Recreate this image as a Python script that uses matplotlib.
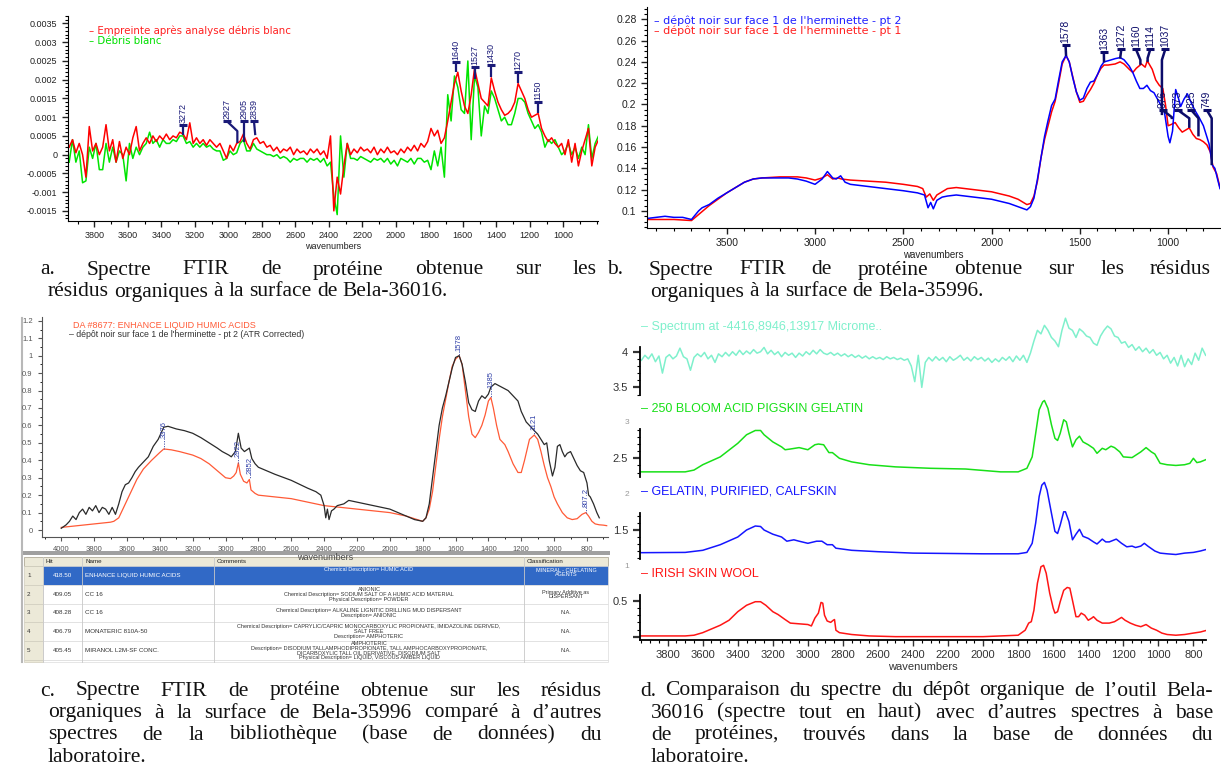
import numpy as np
import matplotlib
matplotlib.use("Agg")
import matplotlib.pyplot as plt
from matplotlib.ticker import MultipleLocator, FixedLocator, FuncFormatter
from matplotlib.patches import Rectangle

plt.rcParams["font.family"] = ["Liberation Sans", "DejaVu Sans"]

W, H = 1221, 780

# ---------------- panel a : Bela-36016 (absorbance x 1e-4) ----------------
a_wn = np.arange(3950, 789, -20)
a_red_e4 = [
    2, 4, 0.5, 3, 0, -6, 7.5, 1, 3, 0,
    2, 8, 1, 4, -2, 3.5, -1, 2, 0, 4.5,
    7.5, 1, 3, 4.5, 3, 5, 3.5, 5, 4, 5.5,
    4, 5, 4.5, 6, 5.5, 4, 8.5, 3, 4.5, 3,
    4, 2.5, 4, 3, 2, 3, 1, -1, 2.5, 1,
    3, 3.5, 5.5, 3, 1.5, 4, 4.5, 3, 3.5, 2,
    2.5, 1, 2, 0.5, 1.5, 1, 2, 0, 1.5, 0.5,
    1, 0, 1.5, 0.5, 1.5, 0, 1, -1, 5, -15,
    -6, -10.5, -3, 3, 0, 1.5, 0.5, 2, 1, 1.5,
    0.5, 2, 0, 1.5, 0.5, 2, 0.5, 1, 0, 1.5,
    0.5, 2, 1, 2.5, 1, 3, 2, 3.5, 7, 5,
    6.5, 3, 4.5, 9, 14, 19, 22, 17, 13, 11,
    16, 23, 19, 15, 14, 13, 20.5, 17, 14, 12,
    10.5, 11, 12, 14, 19, 17, 15, 12, 10, 10.5,
    11, 7, 5, 3.5, 4.5, 3, 2, 3, 0, 4,
    -2, 3, -3, 1, 4, 7, -3, 2, 4,
]
a_green_e4 = [
    -2, 4, -2, 1, -7.5, -7, 2, -1, 3, -4,
    -4, 3, -2, 2, -2, 1, 0, -7, 3, -1,
    2, 0, 2, 3, 6, 3, 4, 2, 4, 3,
    3, 4, 3.5, 5, 5, 3, 3.5, 2, 3, 2,
    3, 2, 2.5, 1.5, 1, 1, -1.5, -1, 1, 0,
    0.5, 3, 4, 1, 1, 3, 1.5, 1, 0.5, 0,
    0, -0.5, 0, -1, -0.5, -1, -2, -1, -1.5, -1,
    -1, -2, -1, -1.5, -1, -2, -1, -3, -2, -11,
    -16, 5, -6, 3, -1, -1, -1.5, -0.5, -1, -1.5,
    -2, -1, -1.5, -1, -2, -1, -2.5, -1.5, -3, -1,
    -1.5, -2, -1, -2.5, -1, -1, -2, -1.5, -4, 1,
    -3, 2, -6, 16, 9, 21, 18, 12, 11, 25,
    4, 21, 18, 5, 13, 11, 17, 15, 12, 9,
    10, 8, 8, 11, 15, 15, 14, 11, 9, 7,
    8, 6, 2, 4, 3, 4, 2, 0, 1, 3,
    0, 2, -1, 2, 0, 8, -1, 3, 5,
]
a_red = np.array(a_red_e4) * 1e-4
a_green = np.array(a_green_e4) * 1e-4

a_mark_labels = ["3272", "2927", "2905", "2839", "1640", "1527", "1430", "1270", "1150"]
a_mark_text_wn = [3272, 3010, 2905, 2847, 1640, 1527, 1430, 1270, 1150]
a_mark_cap = [7.9e-4, 9.0e-4, 9.0e-4, 9.0e-4, 24.8e-4, 23.5e-4, 24.0e-4, 22.1e-4, 14.0e-4]
a_mark_tip_wn = [3272, 2946, 2905, 2839, 1640, 1527, 1430, 1270, 1150]
a_mark_knee = [None, 6.3e-4, None, None, None, None, None, None, None]
a_mark_tip = [5.2e-4, 3.1e-4, 3.3e-4, 5.2e-4, 22.1e-4, 20.2e-4, 20.8e-4, 19.2e-4, 11.1e-4]

# ---------------- panel b : Bela-35996, two points ----------------
b_blue_wn = [3950, 3900, 3850, 3800, 3750, 3700, 3680, 3660, 3640, 3600,
             3550, 3500, 3450, 3400, 3350, 3300, 3250, 3200, 3150, 3100,
             3050, 3000, 2960, 2930, 2900, 2880, 2855, 2830, 2800, 2700,
             2600, 2500, 2420, 2380, 2360, 2345, 2330, 2310, 2280, 2250,
             2200, 2150, 2100, 2000, 1900, 1850, 1800, 1780, 1760, 1740,
             1720, 1700, 1680, 1660, 1640, 1620, 1600, 1578, 1560, 1540,
             1520, 1500, 1480, 1460, 1440, 1420, 1400, 1380, 1363, 1340,
             1300, 1272, 1250, 1220, 1200, 1180, 1160, 1140, 1120, 1100,
             1080, 1060, 1040, 1020, 1000, 990, 975, 957, 940, 929,
             910, 891, 870, 850, 825, 800, 768, 749, 735, 720,
             706]
b_blue = [0.093, 0.094, 0.095, 0.094, 0.094, 0.092, 0.096, 0.100, 0.103, 0.106,
          0.112, 0.117, 0.122, 0.127, 0.130, 0.131, 0.131, 0.131, 0.131, 0.130,
          0.128, 0.125, 0.130, 0.137, 0.131, 0.130, 0.133, 0.127, 0.125, 0.123,
          0.121, 0.119, 0.117, 0.115, 0.103, 0.108, 0.102, 0.110, 0.113, 0.114,
          0.115, 0.114, 0.113, 0.111, 0.107, 0.104, 0.101, 0.104, 0.112, 0.130,
          0.150, 0.170, 0.185, 0.199, 0.205, 0.223, 0.240, 0.246, 0.240, 0.225,
          0.212, 0.204, 0.206, 0.215, 0.221, 0.222, 0.228, 0.236, 0.240, 0.241,
          0.243, 0.244, 0.242, 0.236, 0.230, 0.222, 0.215, 0.215, 0.218, 0.213,
          0.211, 0.205, 0.199, 0.192, 0.170, 0.164, 0.175, 0.214, 0.205, 0.198,
          0.205, 0.210, 0.202, 0.195, 0.188, 0.180, 0.163, 0.143, 0.140, 0.130,
          0.121]
b_red_wn = [3950, 3900, 3800, 3700, 3650, 3600, 3550, 3500, 3450, 3400,
            3350, 3300, 3200, 3100, 3050, 3000, 2960, 2930, 2900, 2870,
            2850, 2800, 2700, 2600, 2500, 2420, 2390, 2370, 2350, 2330,
            2310, 2280, 2250, 2200, 2100, 2000, 1900, 1850, 1800, 1780,
            1760, 1740, 1720, 1700, 1680, 1660, 1640, 1620, 1600, 1578,
            1560, 1540, 1520, 1500, 1480, 1460, 1440, 1420, 1400, 1380,
            1363, 1340, 1300, 1272, 1250, 1220, 1200, 1180, 1151, 1130,
            1118, 1090, 1070, 1050, 1030, 1015, 1000, 985, 960, 940,
            920, 900, 880, 860, 840, 820, 800, 780, 760, 745,
            725, 706]
b_red = [0.092, 0.092, 0.092, 0.091, 0.098, 0.105, 0.111, 0.117, 0.122, 0.127,
         0.130, 0.131, 0.132, 0.132, 0.131, 0.129, 0.131, 0.134, 0.130, 0.131,
         0.130, 0.129, 0.128, 0.127, 0.125, 0.123, 0.121, 0.113, 0.116, 0.110,
         0.115, 0.118, 0.121, 0.122, 0.120, 0.118, 0.114, 0.111, 0.106, 0.107,
         0.114, 0.128, 0.150, 0.167, 0.180, 0.193, 0.203, 0.220, 0.238, 0.246,
         0.240, 0.226, 0.212, 0.202, 0.203, 0.209, 0.214, 0.220, 0.228, 0.234,
         0.237, 0.237, 0.238, 0.240, 0.238, 0.233, 0.230, 0.234, 0.238, 0.235,
         0.241, 0.233, 0.223, 0.218, 0.215, 0.200, 0.180, 0.181, 0.183, 0.178,
         0.174, 0.176, 0.178, 0.172, 0.168, 0.167, 0.165, 0.162, 0.155, 0.141,
         0.135, 0.122]

b_mark_labels = ["1578", "1363", "1272", "1160", "1114", "1037", "976", "873", "825", "749"]
b_mark_text_wn = [1581, 1364, 1265, 1182, 1101, 1016, 1031, 945, 869, 781]
b_mark_cap = [0.256, 0.249, 0.2518, 0.2518, 0.2518, 0.2518, 0.1948, 0.1948, 0.1948, 0.1948]
b_mark_tip_wn = [1578, 1363, 1272, 1157, 1116, 1035, 979, 880, 828, 753]
b_mark_knee = [None, None, None, 0.2418, 0.2435, 0.2418, 0.188, 0.187, 0.187, 0.187]
b_mark_tip = [0.2455, 0.2395, 0.2430, 0.2372, 0.2400, 0.190, 0.1862, 0.178, 0.170, 0.143]

# ---------------- panel c : library comparison ----------------
c_black_wn = [4000, 3970, 3950, 3930, 3910, 3890, 3870, 3850, 3830, 3810,
              3790, 3770, 3750, 3730, 3710, 3690, 3670, 3650, 3630, 3610,
              3590, 3570, 3550, 3530, 3500, 3470, 3440, 3410, 3376, 3350,
              3300, 3250, 3200, 3150, 3100, 3050, 3020, 3000, 2980, 2965,
              2940, 2922, 2905, 2885, 2855, 2840, 2820, 2800, 2700, 2600,
              2500, 2450, 2420, 2400, 2390, 2380, 2370, 2355, 2340, 2320,
              2280, 2250, 2200, 2150, 2100, 2000, 1950, 1900, 1850, 1800,
              1780, 1760, 1740, 1720, 1700, 1680, 1660, 1640, 1620, 1600,
              1578, 1560, 1540, 1520, 1500, 1480, 1460, 1440, 1420, 1400,
              1385, 1360, 1340, 1300, 1280, 1250, 1220, 1200, 1170, 1150,
              1121, 1100, 1080, 1060, 1045, 1030, 1010, 995, 980, 965,
              950, 935, 920, 900, 880, 860, 840, 820, 800, 790,
              780, 760, 740, 725]
c_black = [0.01, 0.03, 0.05, 0.08, 0.06, 0.10, 0.12, 0.09, 0.13, 0.11,
           0.14, 0.10, 0.13, 0.12, 0.09, 0.13, 0.09, 0.15, 0.22, 0.26,
           0.27, 0.30, 0.335, 0.36, 0.39, 0.42, 0.48, 0.52, 0.59, 0.595,
           0.58, 0.57, 0.555, 0.53, 0.50, 0.47, 0.45, 0.44, 0.43, 0.42,
           0.45, 0.555, 0.47, 0.45, 0.47, 0.41, 0.38, 0.36, 0.32, 0.285,
           0.24, 0.22, 0.20, 0.14, 0.07, 0.12, 0.06, 0.11, 0.12, 0.14,
           0.15, 0.17, 0.16, 0.15, 0.14, 0.12, 0.10, 0.08, 0.06, 0.05,
           0.07, 0.15, 0.30, 0.45, 0.60, 0.70, 0.77, 0.85, 0.93, 0.99,
           1.0, 0.95, 0.85, 0.73, 0.69, 0.68, 0.74, 0.77, 0.755, 0.78,
           0.82, 0.84, 0.83, 0.81, 0.80, 0.77, 0.74, 0.68, 0.62, 0.60,
           0.57, 0.55, 0.52, 0.49, 0.50, 0.40, 0.31, 0.36, 0.48, 0.49,
           0.45, 0.42, 0.44, 0.45, 0.41, 0.37, 0.34, 0.33, 0.27, 0.20,
           0.19, 0.15, 0.10, 0.07]
c_red_wn = [4000, 3950, 3900, 3850, 3800, 3750, 3700, 3680, 3650, 3620,
            3580, 3540, 3500, 3450, 3400, 3376, 3330, 3280, 3200, 3150,
            3100, 3050, 3000, 2970, 2950, 2935, 2922, 2910, 2890, 2870,
            2855, 2845, 2820, 2800, 2700, 2600, 2500, 2400, 2300, 2200,
            2100, 2000, 1900, 1850, 1800, 1780, 1760, 1740, 1720, 1700,
            1680, 1660, 1640, 1620, 1600, 1578, 1560, 1540, 1520, 1500,
            1480, 1460, 1440, 1420, 1400, 1385, 1370, 1350, 1330, 1300,
            1280, 1250, 1220, 1200, 1180, 1150, 1121, 1100, 1080, 1060,
            1040, 1020, 1000, 980, 950, 920, 890, 860, 830, 807,
            790, 770, 750, 725, 700, 680]
c_red = [0.015, 0.02, 0.025, 0.03, 0.035, 0.04, 0.045, 0.05, 0.07, 0.13,
         0.21, 0.29, 0.35, 0.40, 0.445, 0.465, 0.46, 0.45, 0.43, 0.41,
         0.38, 0.34, 0.30, 0.295, 0.31, 0.33, 0.385, 0.32, 0.28, 0.27,
         0.29, 0.23, 0.21, 0.20, 0.19, 0.18, 0.16, 0.14, 0.13, 0.12,
         0.11, 0.10, 0.08, 0.065, 0.05, 0.07, 0.12, 0.22, 0.37, 0.52,
         0.65, 0.75, 0.85, 0.94, 0.98, 1.0, 0.95, 0.80, 0.65, 0.55,
         0.53, 0.56, 0.60, 0.66, 0.74, 0.76, 0.70, 0.60, 0.52, 0.49,
         0.45, 0.38, 0.33, 0.33, 0.40, 0.52, 0.545, 0.52, 0.45, 0.37,
         0.30, 0.25, 0.19, 0.15, 0.10, 0.07, 0.06, 0.065, 0.09, 0.10,
         0.08, 0.05, 0.035, 0.03, 0.028, 0.025]

c_mark_labels = ["3376", "2922", "2852", "1578", "1385", "1121", "807.2"]
c_mark_wn = [3376, 2922, 2852, 1578, 1385, 1121, 807]
c_mark_text = [0.528, 0.42, 0.32, 1.029, 0.813, 0.574, 0.134]
c_mark_tip = [0.465, 0.385, 0.29, 1.0, 0.765, 0.545, 0.10]

table_header = ["", "Hit", "Name", "Comments", "Classification"]
table_rows = [
    ["1", "418.50", "ENHANCE LIQUID HUMIC ACIDS", "Chemical Description= HUMIC ACID",
     "MINERAL - CHELATING\nAGENTS"],
    ["2", "409.05", "CC 16",
     "ANIONIC\nChemical Description= SODIUM SALT OF A HUMIC ACID MATERIAL\nPhysical Description= POWDER",
     "Primary Additive as\nDISPERSANT"],
    ["3", "408.28", "CC 16",
     "Chemical Description= ALKALINE LIGNITIC DRILLING MUD DISPERSANT\nDescription= ANIONIC", "N.A."],
    ["4", "406.79", "MONATERIC 810A-50",
     "Chemical Description= CAPRYLIC/CAPRIC MONOCARBOXYLIC PROPIONATE, IMIDAZOLINE DERIVED,\nSALT FREE\nDescription= AMPHOTERIC",
     "N.A."],
    ["5", "405.45", "MIRANOL L2M-SF CONC.",
     "AMPHOTERIC\nDescription= DISODIUM TALLAMPHODIPROPIONATE, TALL AMPHOCARBOXYPROPIONATE,\nDICARBOXYLIC TALL OIL DERIVATIVE, DISODIUM SALT\nPhysical Description= LIQUID, VISCOUS AMBER LIQUID",
     "N.A."],
]

# ---------------- panel d : protein references ----------------
d_cyan_wn = np.arange(3950, 729, -20)
d_cyan = [
    3.88, 3.95, 3.90, 3.97, 3.86, 3.94, 3.70, 3.92, 3.96, 3.90,
    3.94, 4.05, 3.93, 3.90, 3.74, 3.92, 3.97, 3.93, 3.99, 3.90,
    3.95, 3.85, 3.97, 3.93, 3.99, 3.94, 4.00, 3.95, 4.02, 3.96,
    4.01, 3.97, 4.03, 3.98, 4.00, 4.06, 3.97, 4.02, 3.96, 4.00,
    3.93, 3.99, 3.95, 3.98, 3.92, 3.98, 3.94, 4.00, 3.96, 4.02,
    3.97, 4.03, 3.98, 3.96, 3.99, 3.95, 3.98, 3.94, 3.97, 3.93,
    3.96, 3.92, 3.95, 3.91, 3.94, 3.90, 3.93, 3.90, 3.92, 3.89,
    3.93, 3.90, 3.92, 3.89, 3.91, 3.88, 3.90, 3.80, 3.58, 3.95,
    3.50, 3.85, 3.92, 3.87, 3.93, 3.88, 3.92, 3.86, 3.93, 3.88,
    3.91, 3.95, 3.88, 3.92, 3.87, 3.93, 3.89, 3.92, 3.87, 3.91,
    3.85, 3.90, 3.86, 3.92, 3.88, 3.93, 3.86, 3.94, 3.88, 3.95,
    3.85, 3.98, 4.15, 4.30, 4.25, 4.37, 4.30, 4.20, 4.15, 4.07,
    4.30, 4.47, 4.33, 4.30, 4.20, 4.32, 4.28, 4.22, 4.20, 4.12,
    4.09, 4.22, 4.30, 4.36, 4.32, 4.22, 4.20, 4.12, 4.14, 4.06,
    4.10, 4.02, 4.07, 4.00, 4.05, 3.98, 4.03, 3.95, 3.99, 3.90,
    3.95, 3.84, 3.92, 3.80, 3.95, 3.79, 3.90, 3.82, 3.98, 3.88,
    4.05, 3.95,
]
d_green_wn = [3958, 3700, 3650, 3600, 3500, 3400, 3350, 3300, 3270, 3250,
              3200, 3150, 3130, 3100, 3050, 3000, 2960, 2940, 2910, 2880,
              2860, 2820, 2750, 2650, 2500, 2300, 2100, 1900, 1800, 1750,
              1720, 1700, 1680, 1660, 1650, 1630, 1610, 1590, 1575, 1560,
              1540, 1525, 1510, 1490, 1470, 1450, 1430, 1400, 1370, 1350,
              1320, 1300, 1270, 1250, 1220, 1200, 1150, 1100, 1070, 1040,
              1020, 990, 950, 900, 850, 820, 800, 780, 760, 730]
d_green = [2.31, 2.31, 2.335, 2.41, 2.52, 2.71, 2.83, 2.89, 2.89, 2.83,
           2.73, 2.66, 2.62, 2.63, 2.65, 2.62, 2.69, 2.70, 2.69, 2.58,
           2.58, 2.50, 2.45, 2.41, 2.38, 2.36, 2.35, 2.31, 2.31, 2.36,
           2.52, 2.85, 3.18, 3.29, 3.31, 3.20, 2.97, 2.78, 2.75, 2.85,
           3.04, 3.01, 2.85, 2.66, 2.76, 2.81, 2.73, 2.69, 2.64, 2.57,
           2.64, 2.62, 2.67, 2.65, 2.59, 2.52, 2.51, 2.59, 2.65, 2.59,
           2.56, 2.43, 2.41, 2.40, 2.41, 2.43, 2.50, 2.44, 2.45, 2.48]
d_blue_wn = [3958, 3700, 3600, 3500, 3400, 3350, 3300, 3270, 3250, 3200,
             3150, 3120, 3080, 3050, 3000, 2950, 2920, 2890, 2860, 2840,
             2750, 2600, 2400, 2000, 1800, 1750, 1720, 1700, 1680, 1665,
             1650, 1635, 1610, 1590, 1575, 1560, 1540, 1530, 1510, 1490,
             1470, 1450, 1430, 1400, 1370, 1350, 1320, 1300, 1280, 1240,
             1210, 1180, 1150, 1130, 1100, 1080, 1060, 1020, 990, 950,
             900, 850, 800, 760, 730]
d_blue = [1.176, 1.18, 1.21, 1.29, 1.40, 1.50, 1.557, 1.55, 1.50, 1.44,
          1.40, 1.34, 1.36, 1.34, 1.31, 1.34, 1.34, 1.29, 1.29, 1.24,
          1.21, 1.19, 1.17, 1.16, 1.16, 1.18, 1.31, 1.60, 1.98, 2.14,
          2.18, 2.07, 1.74, 1.48, 1.45, 1.57, 1.76, 1.76, 1.62, 1.36,
          1.44, 1.51, 1.41, 1.38, 1.33, 1.30, 1.37, 1.33, 1.33, 1.37,
          1.31, 1.26, 1.27, 1.25, 1.27, 1.31, 1.27, 1.20, 1.17, 1.16,
          1.15, 1.17, 1.18, 1.20, 1.22]
d_red_wn = [3958, 3700, 3650, 3600, 3500, 3450, 3400, 3350, 3300, 3270,
            3240, 3200, 3170, 3130, 3100, 3050, 3000, 2980, 2960, 2940,
            2925, 2915, 2905, 2890, 2870, 2855, 2848, 2840, 2820, 2750,
            2650, 2500, 2000, 1800, 1760, 1740, 1725, 1710, 1690, 1670,
            1655, 1640, 1620, 1600, 1590, 1575, 1560, 1540, 1520, 1505,
            1490, 1470, 1455, 1440, 1420, 1400, 1380, 1370, 1350, 1320,
            1280, 1250, 1210, 1190, 1160, 1130, 1100, 1070, 1040, 1010,
            980, 950, 900, 850, 800, 760, 730]
d_red = [0.01, 0.01, 0.02, 0.056, 0.16, 0.23, 0.35, 0.44, 0.49, 0.49,
         0.44, 0.35, 0.31, 0.24, 0.19, 0.18, 0.17, 0.15, 0.26, 0.33,
         0.48, 0.47, 0.30, 0.22, 0.20, 0.23, 0.24, 0.09, 0.056, 0.03,
         0.01, 0.0, 0.0, 0.02, 0.09, 0.19, 0.21, 0.37, 0.75, 0.98,
         1.0, 0.89, 0.61, 0.40, 0.33, 0.35, 0.49, 0.65, 0.69, 0.68,
         0.51, 0.28, 0.28, 0.33, 0.30, 0.23, 0.26, 0.28, 0.23, 0.19,
         0.19, 0.21, 0.27, 0.23, 0.19, 0.16, 0.14, 0.17, 0.12, 0.09,
         0.05, 0.03, 0.02, 0.03, 0.05, 0.065, 0.085]

d_names = ["Spectrum at -4416,8946,13917 Microme..", "250 BLOOM ACID PIGSKIN GELATIN",
           "GELATIN, PURIFIED, CALFSKIN", "IRISH SKIN WOOL"]

captions = {
    "a": ["a.  Spectre  FTIR  de  protéine  obtenue  sur  les",
          "résidus organiques à la surface de Bela-36016."],
    "b": ["b. Spectre FTIR de protéine obtenue sur les résidus",
          "organiques à la surface de Bela-35996."],
    "c": ["c.  Spectre FTIR de protéine obtenue sur les résidus",
          "organiques à la surface de Bela-35996 comparé à d’autres",
          "spectres de la bibliothèque (base de données) du",
          "laboratoire."],
    "d": ["d. Comparaison du spectre du dépôt organique de l’outil Bela-",
          "36016 (spectre tout en haut) avec d’autres spectres à base",
          "de protéines, trouvés dans la base de données du",
          "laboratoire."],
}


def box(left, top, right, bottom):
    return [left / W, 1 - bottom / H, (right - left) / W, (bottom - top) / H]


def gfmt(v, pos):
    if abs(v) < 1e-12:
        return "0"
    return f"{round(v, 6):g}"


fig = plt.figure(figsize=(W / 100, H / 100), dpi=100)
page = fig.add_axes([0, 0, 1, 1])
page.set_xlim(0, W)
page.set_ylim(H, 0)
page.axis("off")


def spec_axes(pos, xlim, ylim):
    ax = fig.add_axes(box(*pos))
    ax.set_facecolor("none")
    ax.set_xlim(*xlim)
    ax.set_ylim(*ylim)
    ax.spines["top"].set_visible(False)
    ax.spines["right"].set_visible(False)
    ax.yaxis.set_major_formatter(FuncFormatter(gfmt))
    return ax


def peak_marks(ax, labels, text_wn, cap, tip_wn, knee, tip, color, fs, lw=1.6):
    for lab, tw, cy, pw, ky, py in zip(labels, text_wn, cap, tip_wn, knee, tip):
        if ky is None:
            xs, ys = [tw, pw], [cy, py]
        else:
            xs, ys = [tw, pw, pw], [cy, ky, py]
        ax.plot(xs, ys, color=color, lw=lw, solid_capstyle="butt", zorder=5)
        ax.plot([tw], [cy], marker="_", ms=6, mew=2.2, color=color, zorder=5)
        ax.annotate(lab, (tw, cy), xytext=(0, 1.5), textcoords="offset points",
                    rotation=90, ha="center", va="bottom", fontsize=fs, color=color,
                    family=["Liberation Sans Narrow", "Liberation Sans", "DejaVu Sans"],
                    zorder=6)


# ---- panel a
ax_a = spec_axes((68, 16, 598, 221), (3957, 793), (-0.00177, 0.0037))
ax_a.plot(a_wn, a_green, color="#00e400", lw=1.1)
ax_a.plot(a_wn, a_red, color="#ff0000", lw=1.1)
ax_a.yaxis.set_major_locator(MultipleLocator(0.0005))
ax_a.yaxis.set_minor_locator(MultipleLocator(0.0001))
ax_a.xaxis.set_major_locator(FixedLocator(range(1000, 3801, 200)))
ax_a.xaxis.set_minor_locator(MultipleLocator(100))
ax_a.tick_params(labelsize=6.5, length=4, width=1, colors="#222")
ax_a.tick_params(which="minor", length=2, width=0.8)
ax_a.set_xlabel("wavenumbers", fontsize=6.5, labelpad=1, color="#222")
peak_marks(ax_a, a_mark_labels, a_mark_text_wn, a_mark_cap, a_mark_tip_wn,
           a_mark_knee, a_mark_tip, "#1a1a78", 6.5)
ax_a.text(0.04, 0.926, "– Empreinte après analyse débris blanc", transform=ax_a.transAxes,
          color="#ff2020", fontsize=7.4, family=["DejaVu Sans"], va="center")
ax_a.text(0.04, 0.876, "– Débris blanc", transform=ax_a.transAxes,
          color="#00e000", fontsize=7.4, family=["DejaVu Sans"], va="center")

# ---- panel b
ax_b = spec_axes((647, 7, 1220, 228), (3952, 706), (0.084, 0.2915))
ax_b.plot(b_red_wn, b_red, color="#ff0000", lw=1.1)
ax_b.plot(b_blue_wn, b_blue, color="#0000ff", lw=1.1)
ax_b.yaxis.set_major_locator(FixedLocator(np.round(np.arange(0.10, 0.281, 0.02), 2)))
ax_b.yaxis.set_minor_locator(MultipleLocator(0.005))
ax_b.xaxis.set_major_locator(MultipleLocator(500))
ax_b.xaxis.set_minor_locator(MultipleLocator(100))
ax_b.tick_params(labelsize=7.5, length=4, width=1, colors="#222")
ax_b.tick_params(which="minor", length=2, width=0.8)
ax_b.set_xlabel("wavenumbers", fontsize=7, labelpad=1, color="#222")
peak_marks(ax_b, b_mark_labels, b_mark_text_wn, b_mark_cap, b_mark_tip_wn,
           b_mark_knee, b_mark_tip, "#0c0c6a", 7.5, lw=1.8)
ax_b.text(0.012, 0.939, "– dépôt noir sur face 1 de l'herminette - pt 2", transform=ax_b.transAxes,
          color="#2020ff", fontsize=8, family=["DejaVu Sans"], va="center")
ax_b.text(0.012, 0.891, "– dépôt noir sur face 1 de l'herminette - pt 1", transform=ax_b.transAxes,
          color="#ff2020", fontsize=8, family=["DejaVu Sans"], va="center")

# ---- panel c (software screenshot)
page.plot([22, 22], [318, 662], color="#b8b8b8", lw=1.5)
ax_c = spec_axes((41.7, 317, 608, 537), (4119, 672), (-0.040, 1.222))
ax_c.plot(c_red_wn, c_red, color="#ff5a36", lw=0.9)
ax_c.plot(c_black_wn, c_black, color="#2a2a2a", lw=0.9)
ax_c.yaxis.set_major_locator(FixedLocator(np.round(np.arange(0, 1.21, 0.1), 1)))
ax_c.yaxis.set_minor_locator(MultipleLocator(0.05))
ax_c.xaxis.set_major_locator(FixedLocator(range(800, 4001, 200)))
ax_c.xaxis.set_minor_locator(MultipleLocator(100))
ax_c.tick_params(labelsize=5.5, length=3, width=0.8, colors="#555")
ax_c.tick_params(which="minor", length=1.5)
for s in ("left", "bottom"):
    ax_c.spines[s].set_color("#555")
    ax_c.spines[s].set_linewidth(0.8)
ax_c.set_xlabel("wavenumbers", fontsize=6.5, labelpad=0, color="#444")
for lab, w, ty, py in zip(c_mark_labels, c_mark_wn, c_mark_text, c_mark_tip):
    ax_c.plot([w, w], [ty, py], color="#3848a8", lw=0.6, ls=(0, (1.5, 1.5)))
    ax_c.text(w, ty, lab, rotation=90, ha="center", va="bottom", fontsize=5.5, color="#3040a8")
ax_c.text(0.055, 0.96, "DA #8677: ENHANCE LIQUID HUMIC ACIDS", transform=ax_c.transAxes,
          color="#ff5a36", fontsize=6.5, va="center")
ax_c.text(0.048, 0.922, "– dépôt noir sur face 1 de l'herminette - pt 2 (ATR Corrected)",
          transform=ax_c.transAxes, color="#333", fontsize=6.3, va="center")

# results table below the screenshot plot
col_x = [24, 43, 82, 214, 524, 608]
row_y = [557, 566, 585, 604, 622, 641, 660, 662]
page.add_patch(Rectangle((22, 551), 588, 4, color="#a0a0a0", lw=0))
page.add_patch(Rectangle((24, row_y[0]), col_x[-1] - 24, row_y[1] - row_y[0],
                         facecolor="#ece9d8", edgecolor="#b0ab98", lw=0.6))
for i in range(len(row_y) - 2):
    top, bot = row_y[i + 1], row_y[i + 2]
    page.add_patch(Rectangle((24, top), col_x[1] - 24, bot - top,
                             facecolor="#ece9d8", edgecolor="#d0cdbd", lw=0.5))
    fill = "#3169c6" if i == 0 else "white"
    page.add_patch(Rectangle((col_x[1], top), col_x[-1] - col_x[1], bot - top,
                             facecolor=fill, edgecolor="#dcdcdc", lw=0.5))
for xv in col_x[1:-1]:
    page.plot([xv, xv], [row_y[0], row_y[-1]], color="#c8c8c8", lw=0.6)
for j, txt in enumerate(table_header):
    page.text(col_x[j] + 3, (row_y[0] + row_y[1]) / 2, txt, fontsize=4.5,
              va="center", ha="left", color="#222")
for i, row in enumerate(table_rows):
    top, bot = row_y[i + 1], row_y[i + 2]
    mid = (top + bot) / 2
    col = "white" if i == 0 else "#333"
    page.text(col_x[0] + 3, mid, row[0], fontsize=4.5, va="center", color="#333")
    page.text((col_x[1] + col_x[2]) / 2, mid, row[1], fontsize=4.5, va="center",
              ha="center", color=col)
    page.text(col_x[2] + 3, mid, row[2], fontsize=4.5, va="center", color=col)
    page.text((col_x[3] + col_x[4]) / 2, top + 1.5 if i == 0 else mid, row[3], fontsize=4,
              va="top" if i == 0 else "center", ha="center", color=col, linespacing=0.95)
    page.text((col_x[4] + col_x[5]) / 2, top + 1.5 if i == 0 else mid, row[4], fontsize=4,
              va="top" if i == 0 else "center", ha="center", color=col, linespacing=0.95)

# ---- panel d (stacked spectra)
d_xlim = (3958, 728)
d_specs = [
    ((640, 312, 1206, 398), (3.351, 4.557), (3.393, 4.066), [3.5, 4.0], ["3.5", "4"],
     np.round(np.arange(3.4, 4.05, 0.1), 1), d_cyan_wn, d_cyan, "#7ff0cc", 0.829),
    ((640, 398, 1206, 480), (2.196, 3.345), (2.238, 2.911), [2.5], ["2.5"],
     np.round(np.arange(2.3, 2.95, 0.1), 1), d_green_wn, d_green, "#18e018", 0.866),
    ((640, 480, 1206, 562), (1.043, 2.214), (1.086, 1.747), [1.5], ["1.5"],
     np.round(np.arange(1.1, 1.75, 0.1), 1), d_blue_wn, d_blue, "#1515ff", 0.857),
    ((640, 562, 1206, 640), (-0.047, 1.047), (-0.047, 0.584), [0.0, 0.5], ["", "0.5"],
     np.round(np.arange(0.1, 0.55, 0.1), 1), d_red_wn, d_red, "#ff1515", 0.846),
]
for k, (pos, ylim, bounds, yt, ytl, ymin, wn, val, col, ly) in enumerate(d_specs):
    ax = spec_axes(pos, d_xlim, ylim)
    ax.plot(wn, val, color=col, lw=1.1)
    ax.spines["left"].set_bounds(*bounds)
    ax.spines["left"].set_linewidth(1.3)
    ax.set_yticks(yt)
    ax.set_yticklabels(ytl)
    ax.yaxis.set_minor_locator(FixedLocator(ymin))
    ax.tick_params(axis="y", labelsize=8, length=5, width=1.6, colors="#333")
    ax.tick_params(axis="y", which="minor", length=2.5, width=0.8)
    ax.text(0.002, ly, "– " + d_names[k], transform=ax.transAxes, color=col,
            fontsize=9, va="center")
    if k < 3:
        ax.spines["bottom"].set_visible(False)
        ax.set_xticks([])
    else:
        ax.xaxis.set_major_locator(FixedLocator(range(800, 3801, 200)))
        ax.xaxis.set_minor_locator(MultipleLocator(50))
        ax.tick_params(axis="x", labelsize=8, length=4, width=1, colors="#333")
        ax.tick_params(axis="x", which="minor", length=2.5, width=0.8)
        ax.spines["bottom"].set_linewidth(1.3)
        ax.set_xlabel("wavenumbers", fontsize=8, labelpad=1, color="#333")
for txt, yy in zip(["3", "2", "1"], [422, 495, 566]):
    page.text(627, yy, txt, fontsize=6, color="#999", ha="center", va="center")

# ---- captions (justified like the document)
renderer = fig.canvas.get_renderer()
CAP_FS = 15.5
CAP_FONT = ["Liberation Serif", "DejaVu Serif"]


def word_width(s, fs):
    t = page.text(0, 0, s, fontsize=fs, family=CAP_FONT)
    w = t.get_window_extent(renderer=renderer).width
    t.remove()
    return w


def caption_line(text, x0, x1, y, justify):
    words = text.split()
    fs = CAP_FS
    space_w = word_width("a a", fs) - word_width("aa", fs)
    widths = [word_width(w, fs) for w in words]
    # shrink a line that would not fit with normal spacing
    while sum(widths) + space_w * 0.8 * (len(words) - 1) > x1 - x0 and fs > 10:
        fs -= 0.25
        space_w = word_width("a a", fs) - word_width("aa", fs)
        widths = [word_width(w, fs) for w in words]
    if justify and len(words) > 1:
        gap = (x1 - x0 - sum(widths)) / (len(words) - 1)
    else:
        gap = space_w
    x = x0
    for w, wd in zip(words, widths):
        page.text(x, y + 5.5, w, fontsize=fs, family=CAP_FONT, va="baseline", ha="left",
                  color="#111")
        x += wd + gap


cap_layout = {
    "a": [(40, 597, 269, True), (48, 597, 291, False)],
    "b": [(607, 1211, 269, True), (650, 1211, 291, False)],
    "c": [(40, 602, 690, True), (48, 602, 712, True), (48, 602, 734, True), (48, 602, 756, False)],
    "d": [(640, 1213, 690, True), (651, 1213, 712, True), (651, 1213, 734, True), (651, 1213, 756, False)],
}
for key, lines in captions.items():
    for text, (x0, x1, y, just) in zip(lines, cap_layout[key]):
        caption_line(text, x0, x1, y, just)

fig.savefig("out.png", dpi=100)
